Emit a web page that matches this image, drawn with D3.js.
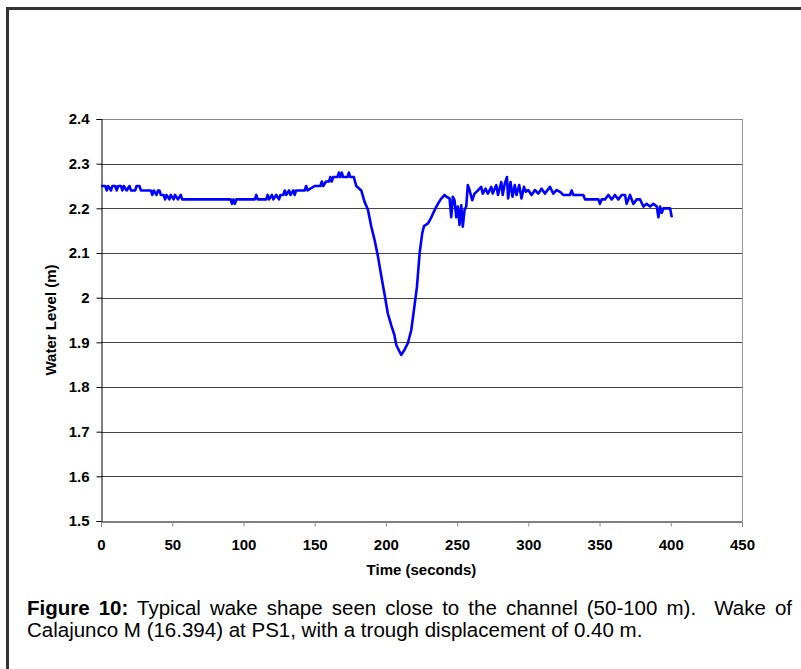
<!DOCTYPE html>
<html>
<head>
<meta charset="utf-8">
<script src="https://cdn.jsdelivr.net/npm/d3@7"></script>
<style>
  body { margin: 0; background: #fff; }
  svg text { font-family: Arial, "Liberation Sans", sans-serif; }
  .tick text { font-weight: bold; font-size: 15px; fill: #000; }
</style>
</head>
<body>
<div id="chart"></div>
<script>
// water level readings
var times = [0, 3, 4, 5, 7, 8, 10, 11, 12, 14, 15, 16, 18, 20, 21, 24, 25, 27, 28,
  35, 36, 37, 39, 40, 41, 42, 44, 45, 46, 48, 49, 51, 52, 54, 56, 57,
  91, 92, 93, 94, 95, 108, 109, 110, 116, 117, 118, 120, 121, 123, 125, 126,
  128, 129, 130, 132, 133, 135, 136, 137, 143, 144, 145, 150, 154, 155, 156,
  158, 160, 161, 162, 163, 166, 167, 168, 169, 170, 173, 174, 175, 177.5,
  179.2, 182.7, 185, 187.4, 189.7, 192, 194.4, 196.8, 199, 201.4, 203.8, 206,
  207.3, 209.6, 210.8, 213, 215.4, 217.8, 220, 221.8, 223.7, 225.5, 226.7,
  229.5, 231.9, 234.2, 236.5, 238.9, 241.2, 242.4, 244.7, 245.9, 247, 248.2,
  249.4, 250.5, 251.7, 252.9, 254, 255.2, 256.4, 257.5, 258.7, 260.6, 262.2,
  264.6, 266.9, 268, 270, 271.6, 274, 275, 277.5, 278.7, 281, 282, 283.5,
  285, 285.8, 287.5, 288.9, 290.5, 291.7, 293.6, 295.2, 296.9, 298.3, 299.9,
  302.3, 304.6, 307, 309.3, 311.6, 315.2, 317.5, 319.9, 322.2, 324.5, 329.2,
  330.4, 331.6, 338.6, 339.8, 349.2, 350.3, 351.5, 353.8, 356.2, 358.5, 360.8,
  363.2, 365.5, 367.9, 369, 371.4, 373.7, 376.1, 378.4, 380.8, 383.1, 385.5,
  387.8, 390.2, 391.3, 392.5, 393.7, 394.8, 397.2, 399.5, 400.7];
var levels = [2.25, 2.25, 2.24, 2.25, 2.24, 2.25, 2.25, 2.24, 2.25, 2.25, 2.24, 2.25, 2.24, 2.25, 2.24, 2.24, 2.25, 2.25, 2.24,
  2.24, 2.23, 2.24, 2.23, 2.24, 2.24, 2.23, 2.23, 2.22, 2.23, 2.22, 2.23, 2.22, 2.23, 2.22, 2.23, 2.22,
  2.22, 2.21, 2.22, 2.21, 2.22, 2.22, 2.23, 2.22, 2.22, 2.23, 2.22, 2.23, 2.22, 2.23, 2.22, 2.23,
  2.23, 2.24, 2.23, 2.24, 2.23, 2.24, 2.23, 2.24, 2.24, 2.25, 2.24, 2.25, 2.25, 2.26, 2.25,
  2.26, 2.26, 2.27, 2.26, 2.27, 2.27, 2.28, 2.27, 2.28, 2.27, 2.27, 2.28, 2.27, 2.27,
  2.25, 2.24, 2.215, 2.197, 2.16, 2.13, 2.093, 2.048, 2.009, 1.964, 1.938, 1.916,
  1.894, 1.879, 1.872, 1.883, 1.898, 1.927, 1.98, 2.024, 2.1, 2.144, 2.16,
  2.166, 2.18, 2.196, 2.21, 2.222, 2.23, 2.226, 2.222, 2.18, 2.226, 2.218,
  2.18, 2.204, 2.163, 2.207, 2.159, 2.196, 2.204, 2.252, 2.241, 2.218, 2.233,
  2.24, 2.248, 2.233, 2.244, 2.233, 2.248, 2.233, 2.252, 2.23, 2.259, 2.23, 2.256,
  2.27, 2.222, 2.259, 2.226, 2.252, 2.23, 2.252, 2.222, 2.248, 2.237, 2.241,
  2.23, 2.241, 2.233, 2.244, 2.233, 2.248, 2.233, 2.241, 2.237, 2.23, 2.23,
  2.24, 2.23, 2.23, 2.22, 2.22, 2.21, 2.22, 2.22, 2.23, 2.22, 2.23,
  2.22, 2.23, 2.23, 2.21, 2.23, 2.21, 2.22, 2.22, 2.204, 2.21, 2.204,
  2.21, 2.204, 2.18, 2.204, 2.19, 2.2, 2.2, 2.2, 2.18];
var xTicks = d3.range(0, 451, 50);
var yTicks = [1.5, 1.6, 1.7, 1.8, 1.9, 2, 2.1, 2.2, 2.3, 2.4];
var caption1Bold = "Figure 10:";
var caption1 = " Typical wake shape seen close to the channel (50-100 m).  Wake of";
var caption2 = "Calajunco M (16.394) at PS1, with a trough displacement of 0.40 m.";

var width = 801, height = 669;
var margin = {top: 119, right: 59, bottom: 148, left: 101};

var svg = d3.select("#chart").append("svg")
    .attr("width", width)
    .attr("height", height);

// frame around the figure
svg.append("line").attr("x1", 7.5).attr("x2", 7.5).attr("y1", 7).attr("y2", height)
    .attr("stroke", "#333").attr("stroke-width", 3);
svg.append("line").attr("x1", 6).attr("x2", width).attr("y1", 8.5).attr("y2", 8.5)
    .attr("stroke", "#333").attr("stroke-width", 3);

var x = d3.scaleLinear().domain([0, 450]).range([margin.left, width - margin.right]);
var y = d3.scaleLinear().domain([1.5, 2.4]).range([height - margin.bottom, margin.top]);

// horizontal gridlines
svg.append("g").selectAll("line").data(yTicks.slice(1))
    .enter().append("line")
    .attr("x1", x(0)).attr("x2", x(450))
    .attr("y1", function(d) { return Math.round(y(d)) + 0.5; })
    .attr("y2", function(d) { return Math.round(y(d)) + 0.5; })
    .attr("stroke", function(d) { return d == 2.4 ? "#888" : "#444"; })
    .attr("stroke-width", 1);

// right edge of plot area
svg.append("line")
    .attr("x1", x(450) + 0.5).attr("x2", x(450) + 0.5)
    .attr("y1", y(2.4)).attr("y2", y(1.5))
    .attr("stroke", "#999");

var yAxis = svg.append("g")
    .attr("transform", "translate(" + (x(0) + 0.5) + ",0)")
    .call(d3.axisLeft(y).tickValues(yTicks).tickSize(5).tickPadding(7)
        .tickFormat(function(d) { return d == 2 ? "2" : d3.format(".1f")(d); }));
yAxis.select(".domain").attr("stroke", "#000");

var xAxis = svg.append("g")
    .attr("transform", "translate(0," + (Math.round(y(1.5)) + 0.5) + ")")
    .call(d3.axisBottom(x).tickValues(xTicks).tickSize(5).tickPadding(13));
xAxis.select(".domain").attr("stroke", "#000");
xAxis.selectAll(".tick line").attr("stroke", "#888");

// the wake trace
var pts = times.map(function(t, i) { return [t, levels[i]]; });
var line = d3.line()
    .x(function(d) { return x(d[0]); })
    .y(function(d) { return y(d[1]); });
svg.append("path")
    .datum(pts)
    .attr("d", line)
    .attr("fill", "none")
    .attr("stroke", "#0000ff")
    .attr("stroke-width", 2.6)
    .attr("stroke-linejoin", "round");

// axis titles
svg.append("text")
    .attr("x", (x(0) + x(450)) / 2)
    .attr("y", 575)
    .attr("text-anchor", "middle")
    .style("font-weight", "bold")
    .style("font-size", "15px")
    .text("Time (seconds)");

svg.append("text")
    .attr("transform", "translate(56," + ((y(1.5) + y(2.4)) / 2) + ") rotate(-90)")
    .attr("text-anchor", "middle")
    .style("font-weight", "bold")
    .style("font-size", "15px")
    .text("Water Level (m)");

// caption, first line justified out to the right margin
var cap = svg.append("text")
    .attr("x", 27)
    .attr("y", 615)
    .style("font-size", "20.5px")
    .style("white-space", "pre");
cap.append("tspan").style("font-weight", "bold").text(caption1Bold);
cap.append("tspan").text(caption1);
var natural = cap.node().getComputedTextLength();
var gaps = (caption1Bold + caption1).split(" ").length - 1;
cap.style("word-spacing", Math.max(0, (792 - 27 - natural) / gaps) + "px");

svg.append("text")
    .attr("x", 27)
    .attr("y", 636.5)
    .style("font-size", "20.5px")
    .text(caption2);
</script>
</body>
</html>
